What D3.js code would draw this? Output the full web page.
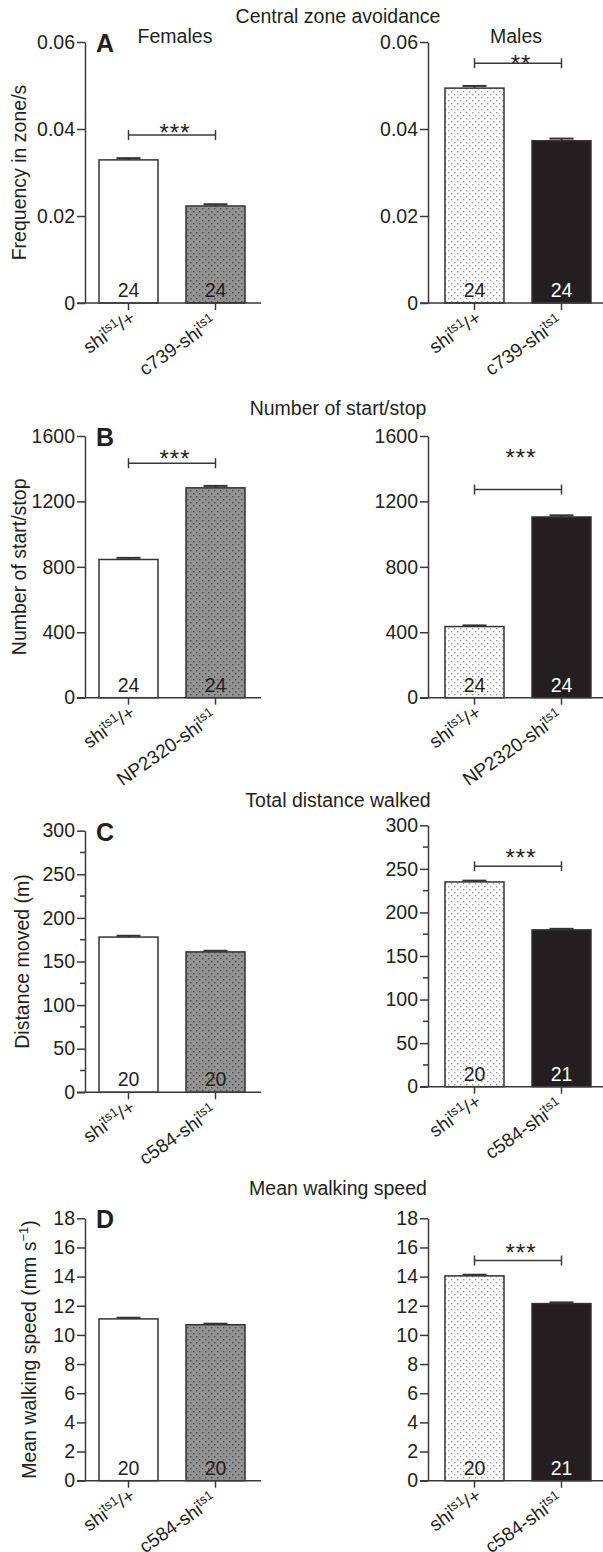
<!DOCTYPE html>
<html>
<head>
  <meta charset="utf-8">
  <script src="https://d3js.org/d3.v7.min.js"></script>
  <style>
    body { margin: 0; background: #fff; }
    text { font-family: "Liberation Sans", Arial, sans-serif; fill: #231f20; }
  </style>
</head>
<body>
<div id="chart"></div>
<script>
// ---- data ----
const rowLetters = ["A", "B", "C", "D"];
const rowTitles = ["Central zone avoidance", "Number of start/stop", "Total distance walked", "Mean walking speed"];
const yLabels = ["Frequency in zone/s", "Number of start/stop", "Distance moved (m)", "Mean walking speed (mm s"];
const driverLines = ["c739", "NP2320", "c584", "c584"];

const yMax = [0.06, 1600, 300, 18];
const yStep = [0.02, 400, 50, 2];
const yMinorStep = [0, 0, 25, 0];

// [control, experimental] per row
const femaleMeans = [[0.0329, 0.0223], [845, 1283], [178, 161], [11.1, 10.7]];
const femaleErrs  = [[0.0004, 0.0004], [10, 12], [1.5, 1.3], [0.08, 0.07]];
const femaleN     = [[24, 24], [24, 24], [20, 20], [20, 20]];
const femaleStars = ["***", "***", "", ""];
const femaleBracket = [0.0386, 1433, null, null];
const femaleStarLevel = [0.0405, 1494, null, null];

const maleMeans = [[0.0494, 0.0373], [435, 1105], [235, 180], [14.05, 12.15]];
const maleErrs  = [[0.0005, 0.0005], [7, 10], [1.5, 1.2], [0.08, 0.08]];
const maleN     = [[24, 24], [24, 24], [20, 21], [20, 21]];
const maleStars = ["**", "***", "***", "***"];
const maleBracket = [0.0551, 1273, 253, 15.1];
const maleStarLevel = [0.0563, 1500, 269, 16.05];

// ---- layout ----
const W = 603, H = 1552;
const axisX = [85, 428];
const barOff = [0, 3];
const rowTop = [[42, 42], [436, 436], [830.7, 825.3], [1218.3, 1218.3]];
const rowBottom = [[303, 303], [697.7, 697.7], [1092.3, 1086.7], [1480.7, 1480.7]];
const titleY = [23, 415, 806.7, 1195];
const yLabelX = [26, 26, 29, 36];
const FS = 19.5;
const ink = "#231f20";
const axisInk = "#3a3a3a";

const svg = d3.select("#chart").append("svg")
  .attr("width", W).attr("height", H);

const defs = svg.append("defs");
function dots(id, bg, dot) {
  const p = defs.append("pattern").attr("id", id)
    .attr("patternUnits", "userSpaceOnUse").attr("width", 6).attr("height", 6);
  p.append("rect").attr("width", 6).attr("height", 6).attr("fill", bg);
  p.append("rect").attr("x", 1).attr("y", 1).attr("width", 1.4).attr("height", 1.4).attr("fill", dot);
  p.append("rect").attr("x", 4).attr("y", 4).attr("width", 1.4).attr("height", 1.4).attr("fill", dot);
}
dots("lightDots", "#ffffff", "#9a9a9a");
dots("darkDots", "#939393", "#4a4a4a");

// fills: [female control, female exp], [male control, male exp]
const fills = [["#ffffff", "url(#darkDots)"], ["url(#lightDots)", ink]];
const nColor = [[ink, ink], [ink, "#ffffff"]];

function xLabel(g, x, y, parts) {
  const t = g.append("text")
    .attr("transform", `translate(${x},${y}) rotate(-35)`)
    .attr("text-anchor", "end")
    .style("font-size", "19px");
  parts.forEach(p => {
    t.append("tspan").text(p[0])
      .style("font-size", p[1] ? "13px" : "19px")
      .attr("dy", p[1] ? -7 : (p[2] ? 7 : 0));
  });
}

function drawPanel(row, side) {
  const means = side === 0 ? femaleMeans[row] : maleMeans[row];
  const errs = side === 0 ? femaleErrs[row] : maleErrs[row];
  const ns = side === 0 ? femaleN[row] : maleN[row];
  const stars = side === 0 ? femaleStars[row] : maleStars[row];
  const bracket = side === 0 ? femaleBracket[row] : maleBracket[row];
  const starLevel = side === 0 ? femaleStarLevel[row] : maleStarLevel[row];
  const groups = ["ctrl", "exp"];
  const x0 = axisX[side];
  const y0 = rowBottom[row][side], y1 = rowTop[row][side];

  const y = d3.scaleLinear().domain([0, yMax[row]]).range([y0, y1]);
  const x = d3.scaleBand().domain(groups)
    .range([x0 + barOff[side], x0 + barOff[side] + 174])
    .paddingInner(0.322).paddingOuter(0.161);

  const g = svg.append("g");

  // bars
  g.selectAll("rect.bar").data(means).join("rect")
    .attr("class", "bar")
    .attr("x", (d, i) => x(groups[i]))
    .attr("width", x.bandwidth())
    .attr("y", d => y(d))
    .attr("height", d => y0 - y(d))
    .attr("fill", (d, i) => fills[side][i])
    .attr("stroke", "#333").attr("stroke-width", 1.5);

  // error bars + n labels
  means.forEach((m, i) => {
    const cx = x(groups[i]) + x.bandwidth() / 2;
    g.append("line").attr("x1", cx).attr("x2", cx)
      .attr("y1", y(m)).attr("y2", y(m + errs[i]))
      .attr("stroke", "#333").attr("stroke-width", 2);
    g.append("line").attr("x1", cx - 12).attr("x2", cx + 12)
      .attr("y1", y(m + errs[i])).attr("y2", y(m + errs[i]))
      .attr("stroke", "#333").attr("stroke-width", 2);
    g.append("text").attr("x", cx).attr("y", y0 - 6)
      .attr("text-anchor", "middle").style("font-size", FS + "px")
      .style("fill", nColor[side][i]).text(ns[i]);
  });

  // y axis
  const ticks = d3.range(0, yMax[row] + yStep[row] / 2, yStep[row]);
  const yAxis = g.append("g").attr("transform", `translate(${x0},0)`)
    .call(d3.axisLeft(y).tickValues(ticks).tickSize(8).tickSizeOuter(0).tickPadding(2)
      .tickFormat(d => d === 0 ? "0" : (row === 0 ? d3.format(".2f")(d) : d3.format("d")(d))));
  if (yMinorStep[row]) {
    const minor = d3.range(0, yMax[row], yMinorStep[row]).filter(v => v % yStep[row] !== 0);
    yAxis.selectAll("line.minor").data(minor).join("line")
      .attr("class", "minor").attr("x1", -5).attr("x2", 0)
      .attr("y1", d => y(d)).attr("y2", d => y(d));
  }
  yAxis.selectAll("text").style("font-size", FS + "px").style("fill", ink).style("font-family", null);
  yAxis.selectAll("line, path").attr("stroke", axisInk).attr("stroke-width", 1.5);

  // x axis
  const xAxis = g.append("g").attr("transform", `translate(0,${y0})`)
    .call(d3.axisBottom(x).tickSize(7).tickFormat(""));
  xAxis.select("path.domain").remove();
  xAxis.append("line").attr("x1", x0 - 8).attr("x2", x0 + 176).attr("y1", 0).attr("y2", 0);
  xAxis.selectAll("line").attr("stroke", axisInk).attr("stroke-width", 1.5);

  const cxs = groups.map(k => x(k) + x.bandwidth() / 2);
  xLabel(g, cxs[0] + 8, y0 + 18, [["shi"], ["ts1", true], ["/+", false, true]]);
  xLabel(g, cxs[1] + 2.5, y0 + 22, [[driverLines[row] + "-shi"], ["ts1", true]]);

  // significance
  if (bracket !== null) {
    const by = y(bracket);
    g.append("path")
      .attr("d", `M${cxs[0]},${by - 5}V${by + 5}M${cxs[0]},${by}H${cxs[1]}M${cxs[1]},${by - 5}V${by + 5}`)
      .attr("fill", "none").attr("stroke", axisInk).attr("stroke-width", 1.5);
    g.append("text").attr("x", (cxs[0] + cxs[1]) / 2 + 3)
      .attr("y", y(starLevel) + 0.58 * 24)
      .attr("text-anchor", "middle").style("font-size", "24px")
      .style("letter-spacing", "1px").text(stars);
  }
}

rowLetters.forEach((letter, row) => {
  drawPanel(row, 0);
  drawPanel(row, 1);

  svg.append("text").attr("x", 338).attr("y", titleY[row])
    .attr("text-anchor", "middle").style("font-size", FS + "px").text(rowTitles[row]);

  svg.append("text").attr("x", 96).attr("y", rowTop[row][0] + 10)
    .style("font-size", "25px").style("font-weight", "bold").text(letter);

  const cy = (rowTop[row][0] + rowBottom[row][0]) / 2;
  const yl = svg.append("text")
    .attr("transform", `translate(${yLabelX[row]},${cy}) rotate(-90)`)
    .attr("text-anchor", "middle").style("font-size", FS + "px")
    .text(yLabels[row]);
  if (row === 3) {
    yl.append("tspan").text("\u22121").style("font-size", "13px").attr("dy", -8);
    yl.append("tspan").text(")").attr("dy", 8);
  }
});

svg.append("text").attr("x", 175).attr("y", 43).attr("text-anchor", "middle")
  .style("font-size", FS + "px").text("Females");
svg.append("text").attr("x", 516).attr("y", 43).attr("text-anchor", "middle")
  .style("font-size", FS + "px").text("Males");
</script>
</body>
</html>
